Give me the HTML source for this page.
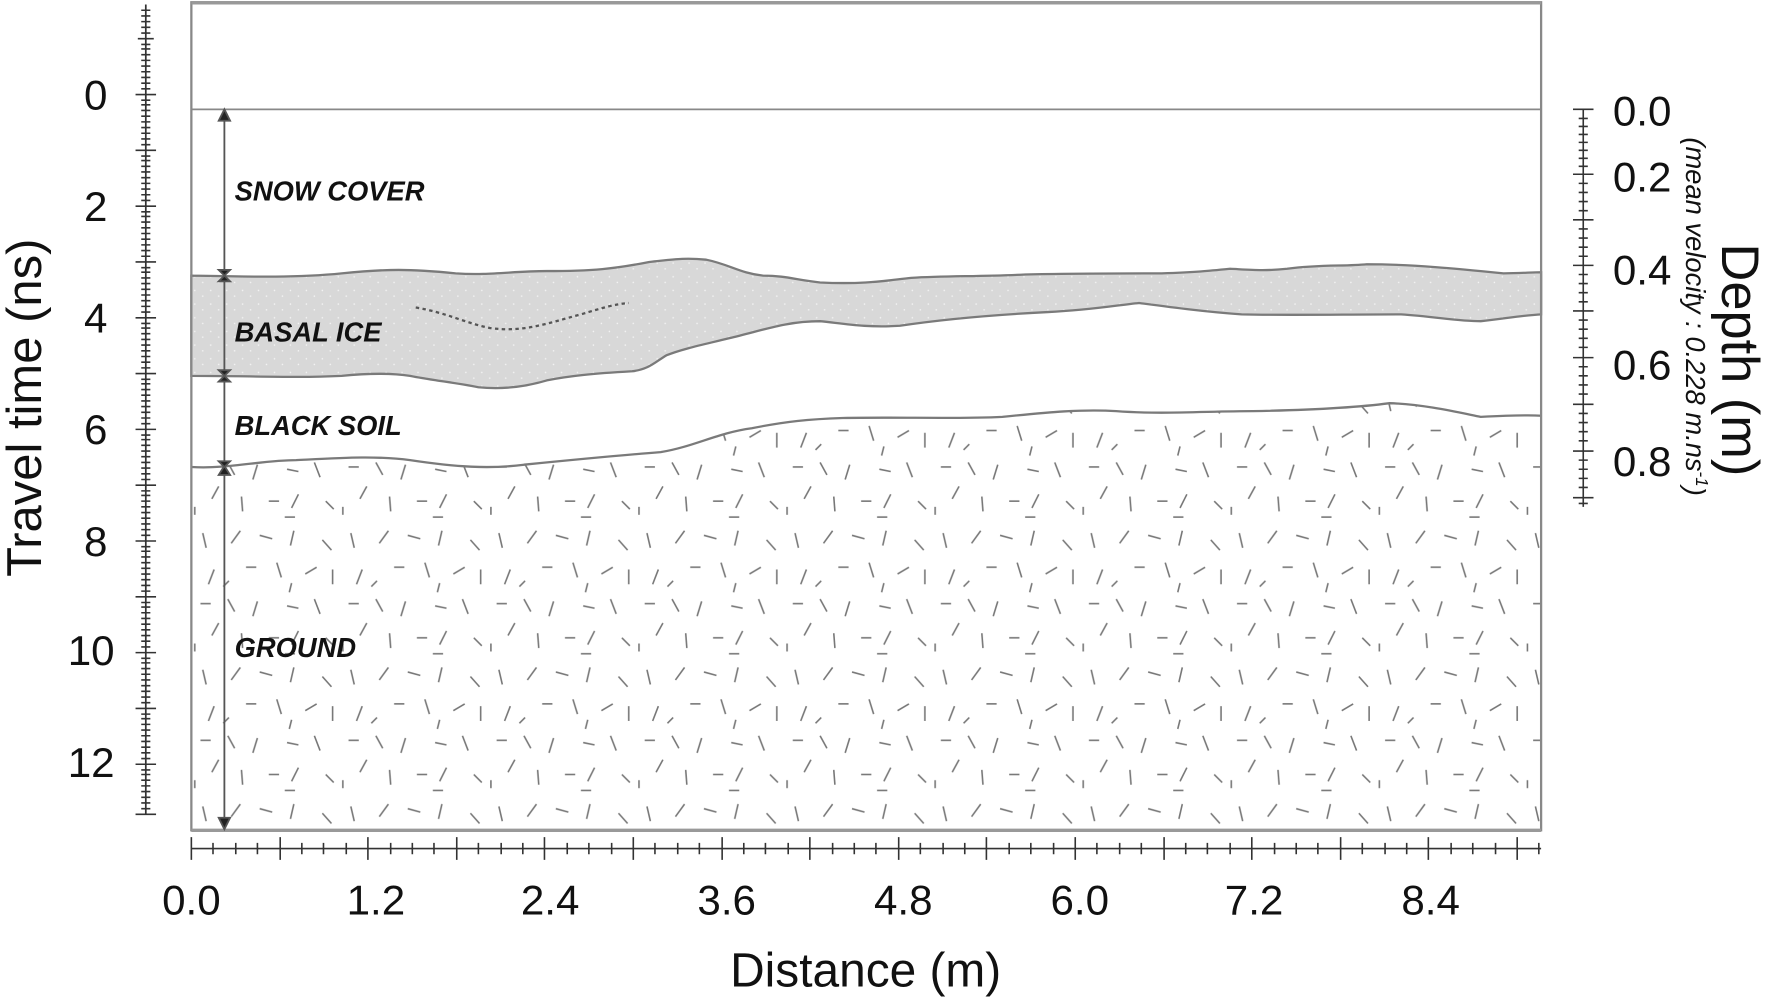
<!DOCTYPE html>
<html><head><meta charset="utf-8"><style>
html,body{margin:0;padding:0;background:#fff;}
svg{display:block;}
text{font-family:"Liberation Sans",Arial,sans-serif;fill:#111;}
</style></head><body>
<svg width="1786" height="1000" viewBox="0 0 1568 878" preserveAspectRatio="none" xmlns="http://www.w3.org/2000/svg">
<defs>
<pattern id="gr" width="130" height="120" patternUnits="userSpaceOnUse" x="168" y="340">
<g stroke="#777" stroke-width="1.4" fill="none">
<path d="M10 8 l3 13"/><path d="M35 17 l8 -11"/><path d="M60 10 l11 3"/><path d="M90 6 l-3 13"/><path d="M115 14 l8 9"/>
<path d="M20 40 l-5 13"/><path d="M48 38 l9 0"/><path d="M75 34 l4 13"/><path d="M100 44 l10 -6"/><path d="M124 40 l0 13"/>
<path d="M8 70 l9 0"/><path d="M32 66 l6 11"/><path d="M58 68 l-4 13"/><path d="M84 72 l10 2"/><path d="M108 66 l5 13"/>
<path d="M18 98 l6 -11"/><path d="M44 96 l1 13"/><path d="M68 100 l9 0"/><path d="M94 94 l-6 12"/><path d="M118 100 l7 7"/>
<path d="M3 112 l0 -7"/><path d="M82 114 l9 0"/><path d="M28 55 l5 -5"/><path d="M88 52 l-2 8"/>
</g></pattern>
<pattern id="dots" width="14" height="12" patternUnits="userSpaceOnUse">
<rect width="14" height="12" fill="#d8d8d8"/>
<circle cx="3" cy="3" r="0.7" fill="#f4f4f4"/><circle cx="10" cy="8" r="0.7" fill="#f4f4f4"/>
</pattern>
</defs>

<path d="M168 410 C200 412 230 404 260 404 C300 402 330 400 360 404 C400 410 430 412 460 408 C500 404 540 400 580 397 C610 392 630 380 660 376 C690 370 710 368 740 367 C790 366 840 368 880 366 C920 362 950 359 980 361 C1020 364 1060 361 1100 361 C1150 360 1190 358 1220 354 C1250 355 1280 362 1300 366 C1320 365 1340 364 1353 365 L1353 728 L168 728 Z" fill="url(#gr)" stroke="none"/>
<path d="M168 410 C200 412 230 404 260 404 C300 402 330 400 360 404 C400 410 430 412 460 408 C500 404 540 400 580 397 C610 392 630 380 660 376 C690 370 710 368 740 367 C790 366 840 368 880 366 C920 362 950 359 980 361 C1020 364 1060 361 1100 361 C1150 360 1190 358 1220 354 C1250 355 1280 362 1300 366 C1320 365 1340 364 1353 365" fill="none" stroke="#7a7a7a" stroke-width="2"/>

<path d="M168 242 C220 243 260 244 300 240 C340 236 360 236 400 240 C430 242 450 238 480 238 C520 238 540 236 570 230 C590 228 600 226 620 228 C640 232 650 240 670 242 C690 242 700 246 720 248 C760 250 780 246 800 244 C830 242 860 243 900 241 C940 240 980 240 1020 240 C1050 239 1060 238 1080 236 C1100 237 1110 238 1130 236 C1160 232 1180 234 1200 232 C1240 232 1280 236 1320 240 C1335 240 1345 239 1353 239 L1353 276 C1335 277 1320 280 1300 282 C1280 282 1260 278 1230 276 C1180 276 1130 277 1090 276 C1060 274 1030 270 1000 266 C980 268 960 272 920 274 C880 276 830 280 790 286 C760 288 740 284 720 282 C690 282 670 290 640 297 C620 302 600 306 585 312 C575 318 570 324 555 326 C520 328 500 330 480 334 C460 340 440 342 420 340 C400 336 380 334 360 330 C340 327 320 328 300 330 C260 332 220 330 168 330 Z" fill="url(#dots)" stroke="#7a7a7a" stroke-width="2"/>
<path d="M365 270 C390 274 410 284 430 288 C460 292 480 284 510 276 C530 270 540 267 552 266" fill="none" stroke="#555" stroke-width="2" stroke-dasharray="3,3"/>

<line x1="168" y1="96" x2="1353" y2="96" stroke="#888" stroke-width="1.5"/>
<rect x="168" y="2" width="1185" height="727" fill="none" stroke="#888" stroke-width="2"/>
<line x1="168" y1="2.5" x2="1353" y2="2.5" stroke="#999" stroke-width="3"/>
<line x1="168" y1="729" x2="1353" y2="729" stroke="#999" stroke-width="3"/>

<g stroke="#555" stroke-width="1.6" fill="#222">
<line x1="197" y1="100" x2="197" y2="724"/>
<path d="M192 106 L197 96 L202 106 Z"/>
<path d="M192 718 L197 728 L202 718 Z"/>
<path d="M192 417 L197 409 L202 417 Z"/>
<path d="M192 237 L202 237 L197 242 Z"/><path d="M192 247 L202 247 L197 242 Z"/>
<path d="M192 325 L202 325 L197 330 Z"/><path d="M192 335 L202 335 L197 330 Z"/>
<path d="M192 405 L202 405 L197 410 Z"/>
</g>

<g font-weight="bold" font-style="italic" font-size="24" fill="#1a1a1a">
<text x="206" y="176">SNOW COVER</text>
<text x="206" y="300">BASAL ICE</text>
<text x="206" y="382">BLACK SOIL</text>
<text x="206" y="577">GROUND</text>
</g>

<g stroke="#333" stroke-width="1.5">
<line x1="128" y1="4" x2="128" y2="715"/>
</g>
<g stroke="#333" stroke-width="1.4">
<path d="
M124 9h8M124 14h8M124 19h8M124 24h8M124 29h8M121 34h14M124 39h8M124 43h8M124 48h8M124 53h8M124 58h8M124 63h8M124 68h8M124 73h8M124 78h8M119 83h18
M124 88h8M124 92h8M124 97h8M124 102h8M124 107h8M124 112h8M124 117h8M124 122h8M124 127h8M119 132h18M124 137h8M124 141h8M124 146h8M124 151h8M124 156h8M124 161h8M124 166h8M124 171h8M124 176h8M119 181h18
M124 186h8M124 190h8M124 195h8M124 200h8M124 205h8M124 210h8M124 215h8M124 220h8M124 225h8M119 230h18M124 235h8M124 239h8M124 244h8M124 249h8M124 254h8M124 259h8M124 264h8M124 269h8M124 274h8M119 279h18
M124 284h8M124 288h8M124 293h8M124 298h8M124 303h8M124 308h8M124 313h8M124 318h8M124 323h8M119 328h18M124 333h8M124 337h8M124 342h8M124 347h8M124 352h8M124 357h8M124 362h8M124 367h8M124 372h8M119 377h18
M124 382h8M124 386h8M124 391h8M124 396h8M124 401h8M124 406h8M124 411h8M124 416h8M124 421h8M119 426h18M124 431h8M124 435h8M124 440h8M124 445h8M124 450h8M124 455h8M124 460h8M124 465h8M124 470h8M119 475h18
M124 480h8M124 484h8M124 489h8M124 494h8M124 499h8M124 504h8M124 509h8M124 514h8M124 519h8M119 524h18M124 529h8M124 533h8M124 538h8M124 543h8M124 548h8M124 553h8M124 558h8M124 563h8M124 568h8M119 573h18
M124 578h8M124 582h8M124 587h8M124 592h8M124 597h8M124 602h8M124 607h8M124 612h8M124 617h8M119 622h18M124 627h8M124 631h8M124 636h8M124 641h8M124 646h8M124 651h8M124 656h8M124 661h8M124 666h8M119 671h18
M124 676h8M124 680h8M124 685h8M124 690h8M124 695h8M124 700h8M124 705h8M124 710h8M119 715h18"/>
</g>
<g font-size="37" text-anchor="middle">
<text x="84" y="96">0</text>
<text x="84" y="194">2</text>
<text x="84" y="292">4</text>
<text x="84" y="390">6</text>
<text x="84" y="488">8</text>
<text x="80" y="584">10</text>
<text x="80" y="682">12</text>
</g>
<text transform="translate(36,358) rotate(-90)" font-size="43" text-anchor="middle">Travel time (ns)</text>

<g stroke="#333" stroke-width="1.4">
<line x1="168" y1="745" x2="1353" y2="745"/>
<path d="
M168 735v20M187 740v10M207 740v10M226 740v10M246 735v20M265 740v10M284 740v10M304 740v10M323 735v20M343 740v10M362 740v10M381 740v10M401 735v20M420 740v10M440 740v10M459 740v10M478 735v20M498 740v10M517 740v10M537 740v10M556 735v20M575 740v10M595 740v10M614 740v10M634 735v20M653 740v10M672 740v10M692 740v10M711 735v20M731 740v10M750 740v10M769 740v10M789 735v20M808 740v10M828 740v10M847 740v10M866 735v20M886 740v10M905 740v10M925 740v10M944 735v20M963 740v10M983 740v10M1002 740v10M1022 735v20M1041 740v10M1060 740v10M1080 740v10M1099 735v20M1119 740v10M1138 740v10M1157 740v10M1177 735v20M1196 740v10M1216 740v10M1235 740v10M1254 735v20M1274 740v10M1293 740v10M1313 740v10M1332 735v20M1351 740v10"/>
</g>
<g font-size="37" text-anchor="middle">
<text x="168" y="803">0.0</text>
<text x="330" y="803">1.2</text>
<text x="483" y="803">2.4</text>
<text x="638" y="803">3.6</text>
<text x="793" y="803">4.8</text>
<text x="948" y="803">6.0</text>
<text x="1101" y="803">7.2</text>
<text x="1256" y="803">8.4</text>
</g>
<text x="760" y="866" font-size="42" text-anchor="middle">Distance (m)</text>

<g stroke="#333" stroke-width="1.4">
<line x1="1390" y1="96" x2="1390" y2="445"/>
<path d="
M1381 96h18M1386 104h8M1386 111h8M1386 118h8M1386 125h8M1386 132h8M1386 139h8M1386 146h8M1381 153h18
M1386 161h8M1386 169h8M1386 177h8M1386 185h8M1381 193h18M1386 201h8M1386 209h8M1386 217h8M1386 225h8M1381 233h18
M1386 241h8M1386 249h8M1386 257h8M1386 265h8M1381 273h18M1386 281h8M1386 289h8M1386 297h8M1386 305h8M1381 314h18
M1386 322h8M1386 330h8M1386 338h8M1386 346h8M1381 355h18M1386 363h8M1386 371h8M1386 379h8M1386 387h8M1381 396h18
M1386 404h8M1386 412h8M1386 420h8M1386 428h8M1381 437h18M1386 442h8"/>
</g>
<g font-size="37">
<text x="1416" y="110">0.0</text>
<text x="1416" y="168">0.2</text>
<text x="1416" y="250">0.4</text>
<text x="1416" y="333">0.6</text>
<text x="1416" y="418">0.8</text>
</g>
<text transform="translate(1512,316) rotate(90)" font-size="46" text-anchor="middle">Depth (m)</text>
<text transform="translate(1480,278) rotate(90)" font-size="24" font-style="italic" text-anchor="middle">(mean velocity : 0.228 m.ns<tspan font-size="15" dy="-9">-1</tspan><tspan dy="9">)</tspan></text>
</svg>
</body></html>
